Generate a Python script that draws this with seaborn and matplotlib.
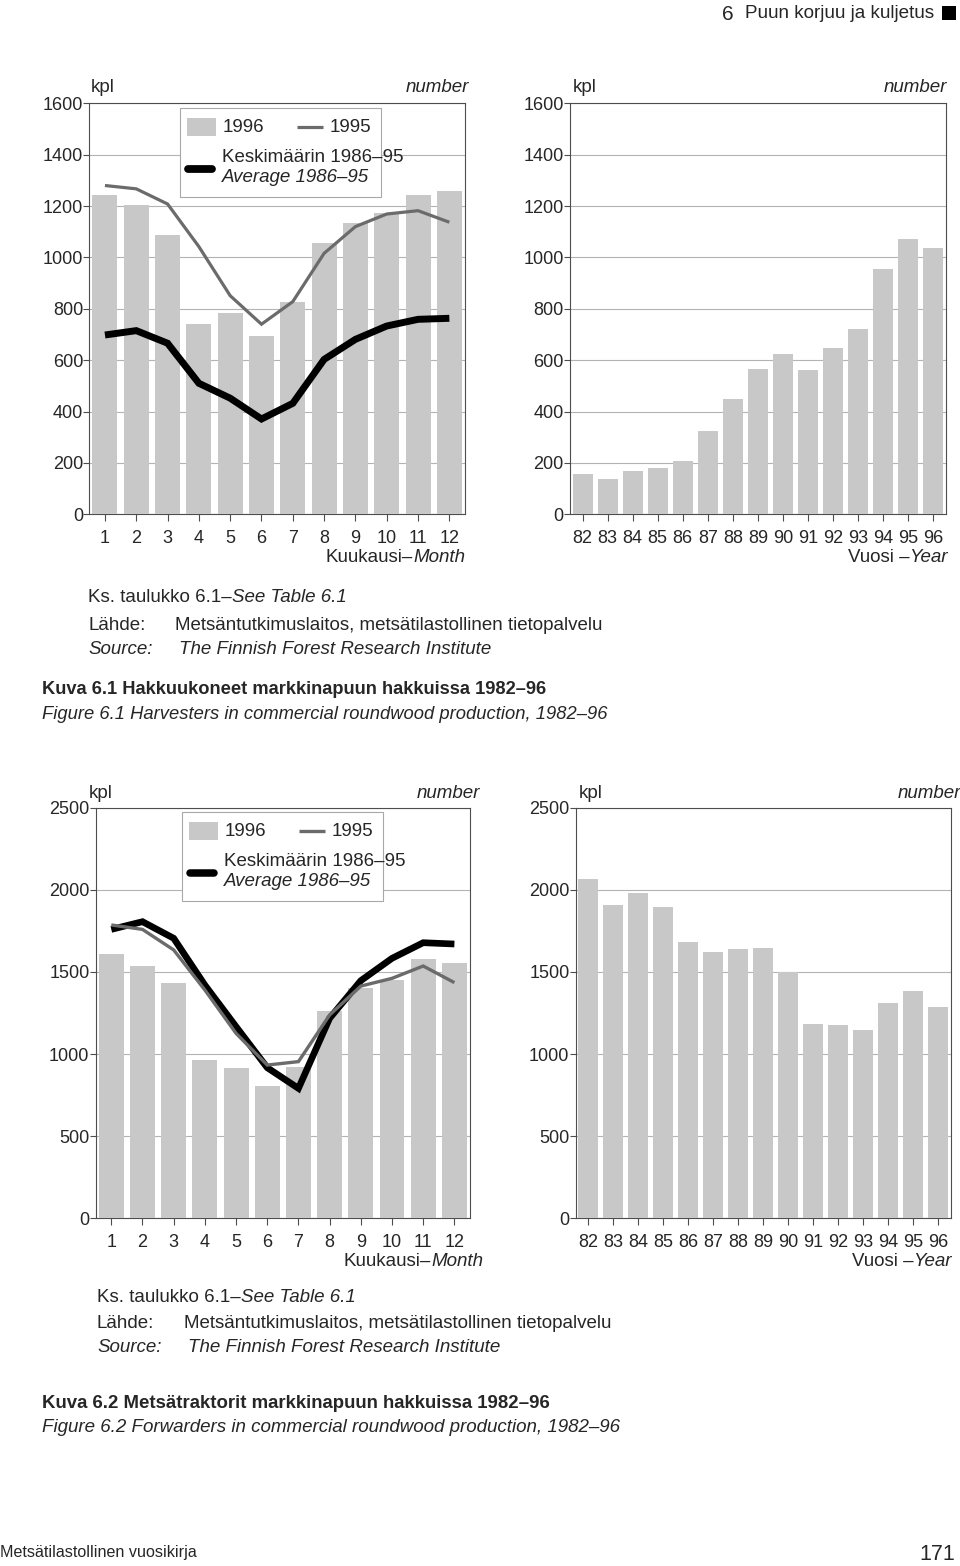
"""kuvat 6.1 ja 6.2: hakkuukoneet ja metsätraktorit markkinapuun hakkuissa 1982-96."""

import numpy as np
import pandas as pd
import matplotlib

matplotlib.use("Agg")
import matplotlib.pyplot as plt
from matplotlib import font_manager
from matplotlib.lines import Line2D
from matplotlib.patches import Rectangle
import seaborn as sns

W, H = 960, 1566

kuukaudet = [str(i) for i in range(1, 13)]
vuodet = [str(v) for v in range(82, 97)]

# kuva 6.1 hakkuukoneet, kpl
hakk_1996 = [1243, 1204, 1089, 740, 782, 694, 825, 1055, 1133, 1172, 1243, 1260]
hakk_1995 = [1280, 1267, 1208, 1042, 851, 740, 828, 1016, 1120, 1169, 1182, 1137]
hakk_ka = [698, 715, 666, 510, 452, 371, 432, 603, 681, 733, 759, 763]
hakk_vuosi = [158, 139, 167, 179, 209, 326, 448, 567, 623, 561, 649, 720, 956, 1071, 1036]

# kuva 6.2 metsatraktorit, kpl
trak_1996 = [1607, 1536, 1435, 966, 915, 808, 923, 1262, 1400, 1451, 1579, 1552]
trak_1995 = [1786, 1759, 1634, 1390, 1126, 933, 954, 1238, 1414, 1461, 1536, 1435]
trak_ka = [1759, 1806, 1705, 1420, 1167, 917, 791, 1218, 1447, 1583, 1678, 1670]
trak_vuosi = [2068, 1907, 1978, 1897, 1682, 1621, 1640, 1648, 1500, 1183, 1177, 1146, 1313, 1384, 1284]

BAR = "#c8c8c8"
GRAY = "#6b6b6b"
SPINE = "#4d4d4d"
GRID = "#b3b3b3"
FS = 13
FS_TXT = 13.5
FS_KAPEA = 13.3

sns.set_style("ticks")
plt.rcParams["font.family"] = ["Liberation Sans", "DejaVu Sans"]

SANS = ("Liberation Sans Narrow", "Arial Narrow", "Nimbus Sans Narrow", "DejaVu Sans Condensed",
        "Noto Sans", "DejaVu Sans", "Open Sans", "Roboto", "Lato", "Inter", "Liberation Sans")
KAVENNETYT = ("condensed", "semi-condensed", "extra-condensed", "ultra-condensed")


def fx(x):
    return x / W


def fy(y):
    return 1 - y / H


def _ehdokkaat():
    out = {("Liberation Sans", "normal")}
    for f in font_manager.fontManager.ttflist:
        if f.name not in SANS:
            continue
        st = str(f.stretch)
        if st in KAVENNETYT or "Narrow" in f.name or "Condensed" in f.name:
            out.add((f.name, st if st in KAVENNETYT else "normal"))
    return sorted(out)


def valitse_kapea(fig, s, leveys):
    # valitaan se kapea fontti jonka luonnollinen leveys on lahinna alkuperaista
    r = fig.canvas.get_renderer()
    paras, ero = ("Liberation Sans", "normal"), None
    for fam, st in _ehdokkaat():
        t = fig.text(0, 0, s, fontsize=FS_KAPEA, weight="bold", fontfamily=fam, fontstretch=st)
        w = t.get_window_extent(r).width
        t.remove()
        d = abs(w - leveys)
        if ero is None or d < ero:
            paras, ero = (fam, st), d
    return paras


KAPEA = ("Liberation Sans", "normal")


def kapea_teksti(fig, x, y, s, leveys, **kw):
    t = fig.text(fx(x), fy(y), s, fontsize=FS_KAPEA, va="center", fontfamily=KAPEA[0],
                 fontstretch=KAPEA[1], **kw)
    r = fig.canvas.get_renderer()
    w = t.get_window_extent(r).width
    t.set_fontsize(FS_KAPEA * leveys / w)
    return t


def teksti(fig, x, y, osat, ha="left", size=FS_TXT):
    """osat: lista (teksti, tyyli-kwargs, vali_jalkeen)."""
    r = fig.canvas.get_renderer()
    objs = []
    for s, kw, gap in osat:
        t = fig.text(0, fy(y), s, fontsize=size, va="center", ha="left", **kw)
        objs.append((t, t.get_window_extent(r).width + gap))
    total = sum(w for _, w in objs) - osat[-1][2]
    x0 = x - total if ha == "right" else x
    for t, w in objs:
        t.set_x(fx(x0))
        x0 += w


def akselit(fig, left, top, right, bottom):
    return fig.add_axes([fx(left), fy(bottom), (right - left) / W, (bottom - top) / H])


def muotoile(ax, labels, ymax, step):
    n = len(labels)
    ax.set_xticks(range(n))
    ax.set_xticklabels(labels)
    ax.set_xlim(-0.5, n - 0.5)
    ax.set_ylim(0, ymax)
    ax.set_yticks(np.arange(0, ymax + 1, step))
    ax.set_axisbelow(True)
    ax.yaxis.grid(True, color=GRID, lw=0.8)
    ax.xaxis.grid(False)
    for s in ax.spines.values():
        s.set_visible(True)
        s.set_color(SPINE)
        s.set_linewidth(0.8)
    ax.tick_params(axis="y", left=True, length=4, width=0.8, color=SPINE, pad=0.5, labelsize=FS)
    ax.tick_params(axis="x", bottom=True, length=5, width=0.8, color=SPINE, pad=6, labelsize=FS)
    ax.set_xlabel("")
    ax.set_ylabel("")


def kk_kuva(ax, v1996, v1995, ka, lw_ka, lw_95, ymax, step):
    df = pd.DataFrame({"kk": kuukaudet, "v1996": v1996, "v1995": v1995, "ka": ka})
    sns.barplot(data=df, x="kk", y="v1996", color=BAR, saturation=1, width=0.8,
                linewidth=0, ax=ax, zorder=2.6)
    pos = np.arange(len(df))
    sns.lineplot(x=pos, y=df["ka"], color="black", lw=lw_ka, sort=False, ax=ax, zorder=3,
                 solid_capstyle="butt", solid_joinstyle="miter")
    sns.lineplot(x=pos, y=df["v1995"], color=GRAY, lw=lw_95, sort=False, ax=ax, zorder=3.1,
                 solid_capstyle="butt", solid_joinstyle="miter")
    muotoile(ax, kuukaudet, ymax, step)


def vuosi_kuva(ax, arvot, ymax, step):
    df = pd.DataFrame({"vuosi": vuodet, "kpl": arvot})
    sns.barplot(data=df, x="vuosi", y="kpl", color=BAR, saturation=1, width=0.8,
                linewidth=0, ax=ax, zorder=2.6)
    muotoile(ax, vuodet, ymax, step)


def selite(fig, x, y, lw_ka, lw_95):
    fig.patches.append(Rectangle((fx(x), fy(y + 89)), 201 / W, 89 / H, transform=fig.transFigure,
                                 facecolor="white", edgecolor="#a8a8a8", lw=0.8, zorder=5))
    fig.patches.append(Rectangle((fx(x + 7), fy(y + 28)), 29 / W, 18 / H, transform=fig.transFigure,
                                 facecolor=BAR, edgecolor="none", zorder=6))
    fig.lines.append(Line2D([fx(x + 117), fx(x + 143)], [fy(y + 19)] * 2, transform=fig.transFigure,
                            color=GRAY, lw=lw_95, solid_capstyle="butt", zorder=6))
    fig.lines.append(Line2D([fx(x + 8), fx(x + 32)], [fy(y + 61)] * 2, transform=fig.transFigure,
                            color="black", lw=lw_ka + 0.6, solid_capstyle="round", zorder=6))
    for s, dx, dy, st in [("1996", 43, 19, "normal"), ("1995", 150, 19, "normal"),
                          ("Keskimäärin 1986–95", 42, 49, "normal"),
                          ("Average 1986–95", 42, 69, "italic")]:
        fig.text(fx(x + dx), fy(y + dy), s, fontsize=FS_TXT, style=st, va="center", zorder=7)


def alateksti(fig, x, y_kk, kk_right, v_right, y_ks, y_kuva, kuva, leveydet):
    teksti(fig, kk_right, y_kk, [("Kuukausi–", {}, 0), ("Month", {"style": "italic"}, 0)], ha="right")
    teksti(fig, v_right, y_kk, [("Vuosi –", {}, 0), ("Year", {"style": "italic"}, 0)], ha="right")
    teksti(fig, x, y_ks, [("Ks. taulukko 6.1–", {}, 0), ("See Table 6.1", {"style": "italic"}, 0)])
    fig.text(fx(x), fy(y_ks + 27), "Lähde:", fontsize=FS_TXT, va="center")
    fig.text(fx(x + 87), fy(y_ks + 27), "Metsäntutkimuslaitos, metsätilastollinen tietopalvelu",
             fontsize=FS_TXT, va="center")
    fig.text(fx(x), fy(y_ks + 51), "Source:", fontsize=FS_TXT, va="center", style="italic")
    fig.text(fx(x + 91), fy(y_ks + 51), "The Finnish Forest Research Institute",
             fontsize=FS_TXT, va="center", style="italic")
    # leveys hieman yli alkuperaisen, jotta kirjainkorkeus ei jaa liian pieneksi
    kapea_teksti(fig, 42, y_kuva, kuva[0], leveydet[0] * 1.06, weight="bold")
    kapea_teksti(fig, 42, y_kuva + 24, kuva[1], leveydet[1] * 1.06, style="italic")


def main() -> None:
    global KAPEA
    fig = plt.figure(figsize=(W / 100, H / 100), dpi=100)
    KAPEA = valitse_kapea(fig, "Kuva 6.1 Hakkuukoneet markkinapuun hakkuissa 1982–96", 475)

    # kuva 6.1
    ax1 = akselit(fig, 89.3, 103.3, 465, 514.3)
    kk_kuva(ax1, hakk_1996, hakk_1995, hakk_ka, 5, 2.3, 1600, 200)
    ax2 = akselit(fig, 570, 103.3, 946, 514.3)
    vuosi_kuva(ax2, hakk_vuosi, 1600, 200)

    # kuva 6.2
    ax3 = akselit(fig, 95.7, 807.7, 470, 1218.3)
    kk_kuva(ax3, trak_1996, trak_1995, trak_ka, 4.8, 2.4, 2500, 500)
    ax4 = akselit(fig, 575.7, 807.7, 950.7, 1218.3)
    vuosi_kuva(ax4, trak_vuosi, 2500, 500)

    selite(fig, 180, 108, 5, 2.3)
    selite(fig, 182, 812, 4.8, 2.4)

    for x_kpl, x_num, y in [(91, 469, 88), (573, 947, 88), (89, 480, 794), (579, 961, 794)]:
        fig.text(fx(x_kpl), fy(y), "kpl", fontsize=FS_TXT, va="center")
        fig.text(fx(x_num), fy(y), "number", fontsize=FS_TXT, va="center", ha="right", style="italic")

    alateksti(fig, 88, 558, 465, 948, 598, 690,
              ("Kuva 6.1 Hakkuukoneet markkinapuun hakkuissa 1982–96",
               "Figure 6.1 Harvesters in commercial roundwood production, 1982–96"), (475, 530))
    alateksti(fig, 97, 1262, 483, 952, 1297, 1404,
              ("Kuva 6.2 Metsätraktorit markkinapuun hakkuissa 1982–96",
               "Figure 6.2 Forwarders in commercial roundwood production, 1982–96"), (480, 545))

    # sivun yla- ja alareuna
    fig.text(fx(722), fy(14), "6", fontsize=15, va="center")
    teksti(fig, 745, 14, [("Puun korjuu ja kuljetus", {}, 0)], size=13.6)
    fig.patches.append(Rectangle((fx(942), fy(20)), 14 / W, 14 / H, transform=fig.transFigure,
                                 facecolor="black", edgecolor="none"))
    kapea_teksti(fig, 0, 1553, "Metsätilastollinen vuosikirja", 195)
    fig.text(fx(955), fy(1555), "171", fontsize=15.5, va="center", ha="right")

    fig.savefig("out.png", dpi=100)
    plt.close(fig)


if __name__ == "__main__":
    main()
